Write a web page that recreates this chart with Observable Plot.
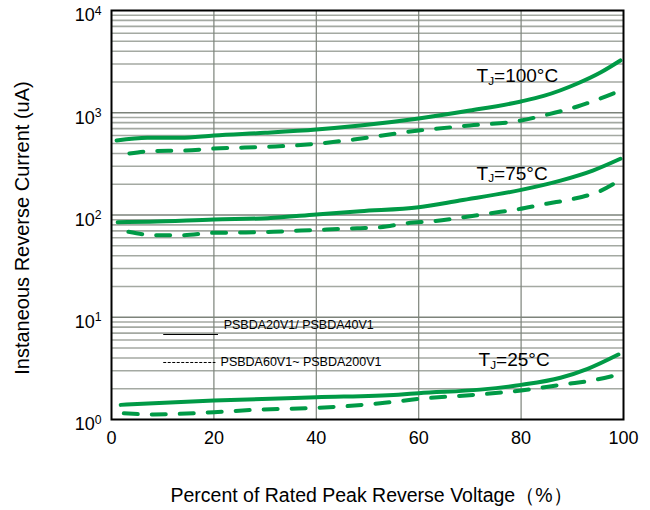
<!DOCTYPE html>
<html>
<head>
<meta charset="utf-8">
<script src="https://cdn.jsdelivr.net/npm/d3@7"></script>
<script src="https://cdn.jsdelivr.net/npm/@observablehq/plot@0.6"></script>
<style>
  html, body { margin: 0; padding: 0; background: #fff; }
</style>
</head>
<body>
<div id="chart"></div>
<script>
// ---- data ----
const xTicks = [0, 20, 40, 60, 80, 100];
const yTicks = [1, 10, 100, 1000, 10000];

const pct100Solid = [1, 7, 13.5, 20, 30, 40, 48.6, 60, 70, 80, 84.4, 91, 95.5, 99.4];
const cur100Solid = [535, 570, 568, 599, 637, 686, 750, 879, 1050, 1290, 1460, 1932, 2475, 3245];
const pct100Dash = [3.5, 7.6, 14.5, 20, 26, 32, 40, 47.3, 60, 70, 80, 84.4, 91, 95.5, 99];
const cur100Dash = [399, 421, 427, 447, 457, 468, 497, 547, 670, 750, 840, 940, 1151, 1379, 1615];

const pct75Solid = [1.2, 7.6, 20, 30.5, 40, 48.6, 60, 68, 80, 87.7, 94, 99.4];
const cur75Solid = [85.1, 85.9, 90.4, 93.1, 101.2, 109, 119, 138.5, 176, 217, 272, 355];
const pct75Dash = [3.3, 8.6, 14, 20, 25.8, 31.6, 37, 42, 48, 52.5, 57.8, 63, 68.8, 74, 79.5, 85, 90, 95.5, 99.4];
const cur75Dash = [68.5, 63.5, 63.5, 67.0, 67.4, 68.5, 70.5, 72.1, 74.3, 76.0, 83.2, 87.0, 95.1, 104, 114, 129, 143, 172, 221];

const pct25Solid = [1.8, 20, 40, 56, 60, 72, 80, 87.7, 93, 99];
const cur25Solid = [1.39, 1.53, 1.65, 1.75, 1.81, 1.96, 2.18, 2.56, 3.13, 4.32];
const pct25Dash = [2.4, 8.2, 20, 29, 40, 52.5, 60, 72, 80, 89, 93, 99.8];
const cur25Dash = [1.15, 1.12, 1.18, 1.25, 1.30, 1.44, 1.59, 1.76, 1.92, 2.23, 2.37, 2.80];

const tempLabels = ["T_J=100°C", "T_J=75°C", "T_J=25°C"];
const legendLabels = ["PSBDA20V1/ PSBDA40V1", "PSBDA60V1~ PSBDA200V1"];
const xTitle = "Percent of Rated Peak Reverse Voltage（%）";
const yTitle = "Instaneous Reverse Current (uA)";

// ---- build tables ----
function series(xs, ys, key) { return xs.map((x, i) => ({x, y: ys[i], key})); }
const solidData = [
  ...series(pct100Solid, cur100Solid, "100"),
  ...series(pct75Solid, cur75Solid, "75"),
  ...series(pct25Solid, cur25Solid, "25")
];
const dashData = [
  ...series(pct100Dash, cur100Dash, "100"),
  ...series(pct75Dash, cur75Dash, "75"),
  ...series(pct25Dash, cur25Dash, "25")
];

const green = "#009a46";
const minorTicks = d3.scaleLog().domain([1, 10000]).ticks().filter(v => !yTicks.includes(v));

const tempPos = [{x: 71.3, y: 2313}, {x: 71.3, y: 255}, {x: 71.7, y: 3.86}];
const tempData = tempLabels.map((t, i) => ({text: t, ...tempPos[i]}));

const svg = Plot.plot({
  width: 650,
  height: 510,
  marginLeft: 111,
  marginRight: 27,
  marginTop: 10,
  marginBottom: 91,
  style: {fontFamily: "Arial, 'Liberation Sans', sans-serif", background: "white", color: "black"},
  x: {domain: [0, 100]},
  y: {type: "log", domain: [1, 10000]},
  marks: [
    Plot.ruleY(minorTicks, {stroke: "#a4a9a2", strokeWidth: 1.6}),
    Plot.ruleY(yTicks.slice(1, -1), {stroke: "#7d837b", strokeWidth: 1.3}),
    Plot.ruleX(xTicks.slice(1, -1), {stroke: "#7d837b", strokeWidth: 1.2}),
    Plot.line(solidData, {x: "x", y: "y", z: "key", stroke: green, strokeWidth: 4, curve: "monotone-x"}),
    Plot.line(dashData, {x: "x", y: "y", z: "key", stroke: green, strokeWidth: 4, strokeDasharray: "14,14", curve: "monotone-x"}),
    // legend
    Plot.ruleY([6.78], {x1: 10.2, x2: 20.9, stroke: "black", strokeWidth: 1}),
    Plot.ruleY([3.61], {x1: 10.2, x2: 20.4, stroke: "black", strokeWidth: 1, strokeDasharray: "3,1.5"}),
    Plot.text([legendLabels[0]], {x: 21.9, y: 8.49, textAnchor: "start", fontSize: 12.5}),
    Plot.text([legendLabels[1]], {x: 21.3, y: 3.61, textAnchor: "start", fontSize: 12.5}),
    Plot.frame({stroke: "black", strokeWidth: 2}),
    Plot.axisX({ticks: xTicks, tickSize: 0, tickPadding: 12, fontSize: 18, label: null}),
    Plot.axisY({ticks: yTicks, tickSize: 0, tickPadding: 10, fontSize: 18, label: null, dy: 5,
      tickFormat: d => "10|" + Math.round(Math.log10(d))}),
    Plot.text(tempData, {x: "x", y: "y", text: "text", textAnchor: "start", fontSize: 19}),
    Plot.text([xTitle], {frameAnchor: "bottom", textAnchor: "middle", dy: 82, dx: 4, fontSize: 19.5}),
    Plot.text([yTitle], {frameAnchor: "left", textAnchor: "middle", dx: -89, dy: 13, rotate: -90, fontSize: 20})
  ]
});

// superscripts for y tick labels, subscripts for T_J
d3.select(svg).selectAll("text").each(function() {
  const t = this.textContent;
  if (/^10\|\d$/.test(t)) {
    const [base, exp] = t.split("|");
    const sel = d3.select(this);
    sel.text(null);
    sel.append("tspan").text(base);
    sel.append("tspan").attr("dy", "-0.55em").attr("font-size", "0.68em").text(exp);
  } else if (/^T_J/.test(t)) {
    const rest = t.slice(3);
    const sel = d3.select(this);
    sel.text(null);
    sel.append("tspan").text("T");
    sel.append("tspan").attr("dy", "0.25em").attr("font-size", "0.62em").text("J");
    sel.append("tspan").attr("dy", "-0.155em").text(rest);
  }
});

document.getElementById("chart").appendChild(svg);
</script>
</body>
</html>
